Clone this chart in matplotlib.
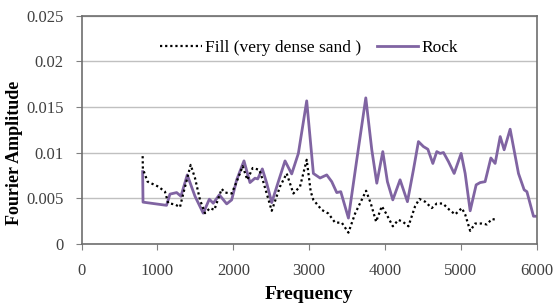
import matplotlib
matplotlib.use("Agg")
import matplotlib.pyplot as plt

rock_freq = [805, 810, 1120, 1165, 1253, 1310, 1393, 1495, 1604, 1684, 1736, 1816, 1913, 1979,
             2045, 2141, 2220, 2286, 2322, 2383, 2441, 2507, 2594, 2682, 2770, 2858, 2968,
             3056, 3144, 3232, 3298, 3364, 3417, 3518, 3628, 3747, 3826, 3892, 3971, 4032,
             4103, 4199, 4296, 4375, 4441, 4507, 4565, 4631, 4683, 4727, 4771, 4837, 4912,
             5004, 5057, 5123, 5202, 5255, 5320, 5396, 5452, 5519, 5571, 5650, 5760, 5835,
             5871, 5958, 5993]
rock_amp = [0.0079, 0.00455, 0.0042, 0.00543, 0.0056, 0.0052, 0.00754, 0.0052, 0.00334, 0.00487,
            0.00443, 0.00535, 0.00436, 0.0048, 0.0070, 0.00908, 0.0067, 0.00718, 0.0071, 0.0082,
            0.00663, 0.0045, 0.0068, 0.00908, 0.00765, 0.0099, 0.01567, 0.0077, 0.0072, 0.00754,
            0.0068, 0.0056, 0.0057, 0.0028, 0.0092, 0.0160, 0.0103, 0.00663, 0.0101, 0.0068,
            0.0048, 0.0070, 0.0046, 0.0081, 0.0112, 0.01065, 0.01036, 0.0088, 0.0101, 0.0099,
            0.0100, 0.0090, 0.0077, 0.0099, 0.0077, 0.0036, 0.00645, 0.0067, 0.0068, 0.0094,
            0.0088, 0.01175, 0.0103, 0.01256, 0.0077, 0.0059, 0.0057, 0.0030, 0.0030]

fill_freq = [805, 808, 870, 1011, 1099, 1143, 1231, 1297, 1341, 1438, 1495, 1561, 1627, 1693,
             1750, 1847, 1891, 1979, 2045, 2124, 2185, 2256, 2343, 2388, 2507, 2616, 2704,
             2792, 2880, 2968, 3021, 3056, 3166, 3254, 3342, 3430, 3518, 3606, 3751, 3813,
             3883, 3958, 4015, 4103, 4177, 4235, 4309, 4397, 4454, 4529, 4617, 4683, 4763,
             4850, 4925, 5013, 5057, 5123, 5189, 5277, 5343, 5409, 5475]
fill_amp = [0.0096, 0.0082, 0.0068, 0.00626, 0.0057, 0.00443, 0.0043, 0.0040, 0.0055, 0.00864,
            0.0072, 0.0048, 0.00334, 0.0039, 0.0037, 0.0060, 0.0056, 0.0055, 0.0068, 0.0085,
            0.0070, 0.0083, 0.0081, 0.0070, 0.0036, 0.00626, 0.0077, 0.0055, 0.00626, 0.0092,
            0.0057, 0.0048, 0.0037, 0.0033, 0.0023, 0.0023, 0.0012, 0.0033, 0.0058, 0.0044,
            0.0024, 0.0041, 0.0033, 0.0019, 0.0026, 0.0024, 0.0019, 0.0041, 0.0049, 0.0046,
            0.0039, 0.0044, 0.0044, 0.0037, 0.0032, 0.0039, 0.0032, 0.0014, 0.0022, 0.0022,
            0.0021, 0.0027, 0.0026]

x_ticks = [0, 1000, 2000, 3000, 4000, 5000, 6000]
y_ticks = [0, 0.005, 0.01, 0.015, 0.02, 0.025]
y_tick_labels = ["0", "0.005", "0.01", "0.015", "0.02", "0.025"]

plt.rcParams['font.family'] = ['Liberation Serif', 'DejaVu Serif']

fig = plt.figure(figsize=(5.55, 3.06), dpi=100)
ax = fig.add_axes([0.147, 0.204, 0.820, 0.744])

ax.plot(fill_freq, fill_amp, color='black', lw=1.6, linestyle=(0, (1, 1.3)),
        label='Fill (very dense sand )', zorder=3)
ax.plot(rock_freq, rock_amp, color='#8064A2', lw=2.0, label='Rock', zorder=2)

ax.set_xlim(0, 6000)
ax.set_ylim(0, 0.025)
ax.set_xticks(x_ticks)
ax.set_yticks(y_ticks)
ax.set_yticklabels(y_tick_labels)
ax.yaxis.grid(True, color='#c0c0c0', lw=1)
ax.set_axisbelow(True)

for s in ax.spines.values():
    s.set_color('#6e6e6e')
    s.set_linewidth(1.2)

ax.tick_params(axis='both', colors='#808080', labelcolor='#404040', labelsize=12,
               length=4, direction='out')
ax.tick_params(axis='x', pad=10)
ax.tick_params(axis='y', pad=9)

ax.set_xlabel('Frequency', fontsize=14, fontweight='bold', labelpad=5)
ax.set_ylabel('Fourier Amplitude', fontsize=13, fontweight='bold')
ax.yaxis.set_label_coords(-0.128, 0.40)

leg = ax.legend(loc='upper center', bbox_to_anchor=(0.5, 0.965), ncol=2, frameon=False,
                fontsize=12.5, handlelength=2.4, handletextpad=0.2, columnspacing=0.9)

fig.savefig('out.png', dpi=100)
